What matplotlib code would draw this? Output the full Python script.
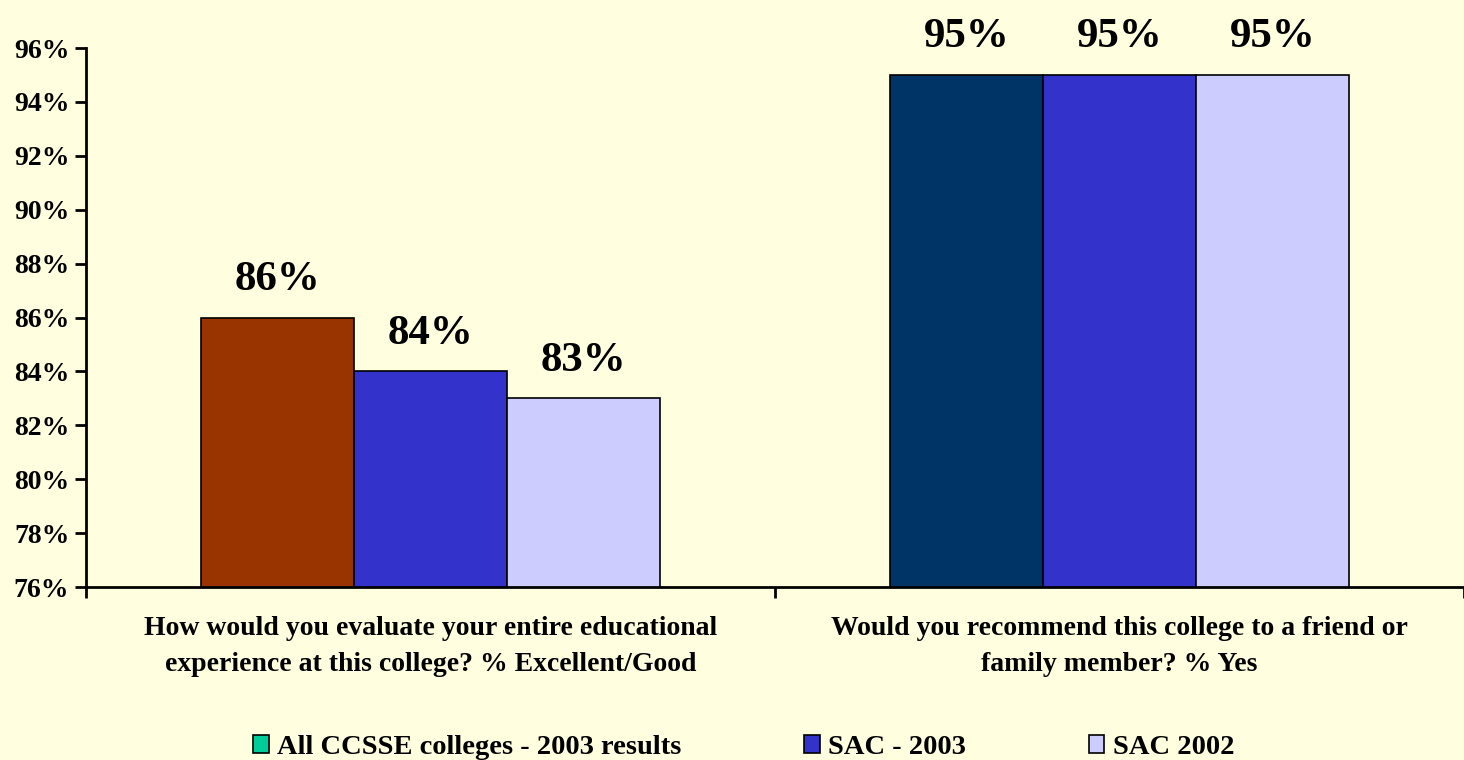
import numpy as np
import matplotlib.pyplot as plt
from matplotlib.patches import Patch

plt.rcParams['font.family'] = ['Liberation Serif', 'DejaVu Serif']
plt.rcParams['font.weight'] = 'bold'

# data
categories = ['How would you evaluate your entire educational\nexperience at this college? % Excellent/Good',
              'Would you recommend this college to a friend or\nfamily member? % Yes']
series = ['All CCSSE colleges - 2003 results', 'SAC - 2003', 'SAC 2002']
values = [[86, 95], [84, 95], [83, 95]]
# per-point fill colours (the source chart overrides the first series)
bar_colors = [['#993300', '#003366'], ['#3333CC', '#3333CC'], ['#CCCCFF', '#CCCCFF']]
legend_colors = ['#00CC99', '#3333CC', '#CCCCFF']
yticks = np.arange(76, 97, 2)

bg = '#FFFFE0'
fig = plt.figure(figsize=(14.64, 7.6), dpi=100, facecolor=bg)
ax = fig.add_axes([0.0587, 0.2276, 0.9413, 0.7092], facecolor=bg)

x = np.arange(len(categories))
w = 0.222
for i, s in enumerate(series):
    pos = x + (i - 1) * w
    ax.bar(pos, values[i], width=w, bottom=0, color=bar_colors[i],
           edgecolor='black', linewidth=1.2, zorder=2)
    for p, v in zip(pos, values[i]):
        ax.text(p, v + 0.7, f'{v}%', ha='center', va='bottom',
                fontsize=31, fontweight='bold')

ax.set_xlim(-0.5, 1.5)
ax.set_ylim(76, 96)
ax.set_yticks(yticks)
ax.set_yticklabels([f'{t}%' for t in yticks], fontsize=20, fontweight='bold')
ax.set_xticks([-0.5, 0.5, 1.5])
ax.set_xticklabels([])
ax.set_xticks(x, minor=True)
ax.set_xticklabels(categories, minor=True, fontsize=20, fontweight='bold',
                   linespacing=1.55)
ax.tick_params(axis='x', which='minor', length=0, pad=21)
ax.tick_params(axis='x', which='major', length=8, width=2, direction='out')
ax.tick_params(axis='y', length=8, width=2, direction='out', pad=4)

for side in ['top', 'right']:
    ax.spines[side].set_visible(False)
for side in ['left', 'bottom']:
    ax.spines[side].set_linewidth(2)

handles = [Patch(facecolor=c, edgecolor='black', linewidth=1.2) for c in legend_colors]
fig.legend(handles, series, loc='lower center', bbox_to_anchor=(0.508, -0.034),
           ncol=3, frameon=False, prop={'size': 20.5, 'weight': 'bold'},
           columnspacing=4.3, handlelength=0.55, handleheight=0.6, handletextpad=0.3)

fig.savefig('out.png', dpi=100, facecolor=bg)
